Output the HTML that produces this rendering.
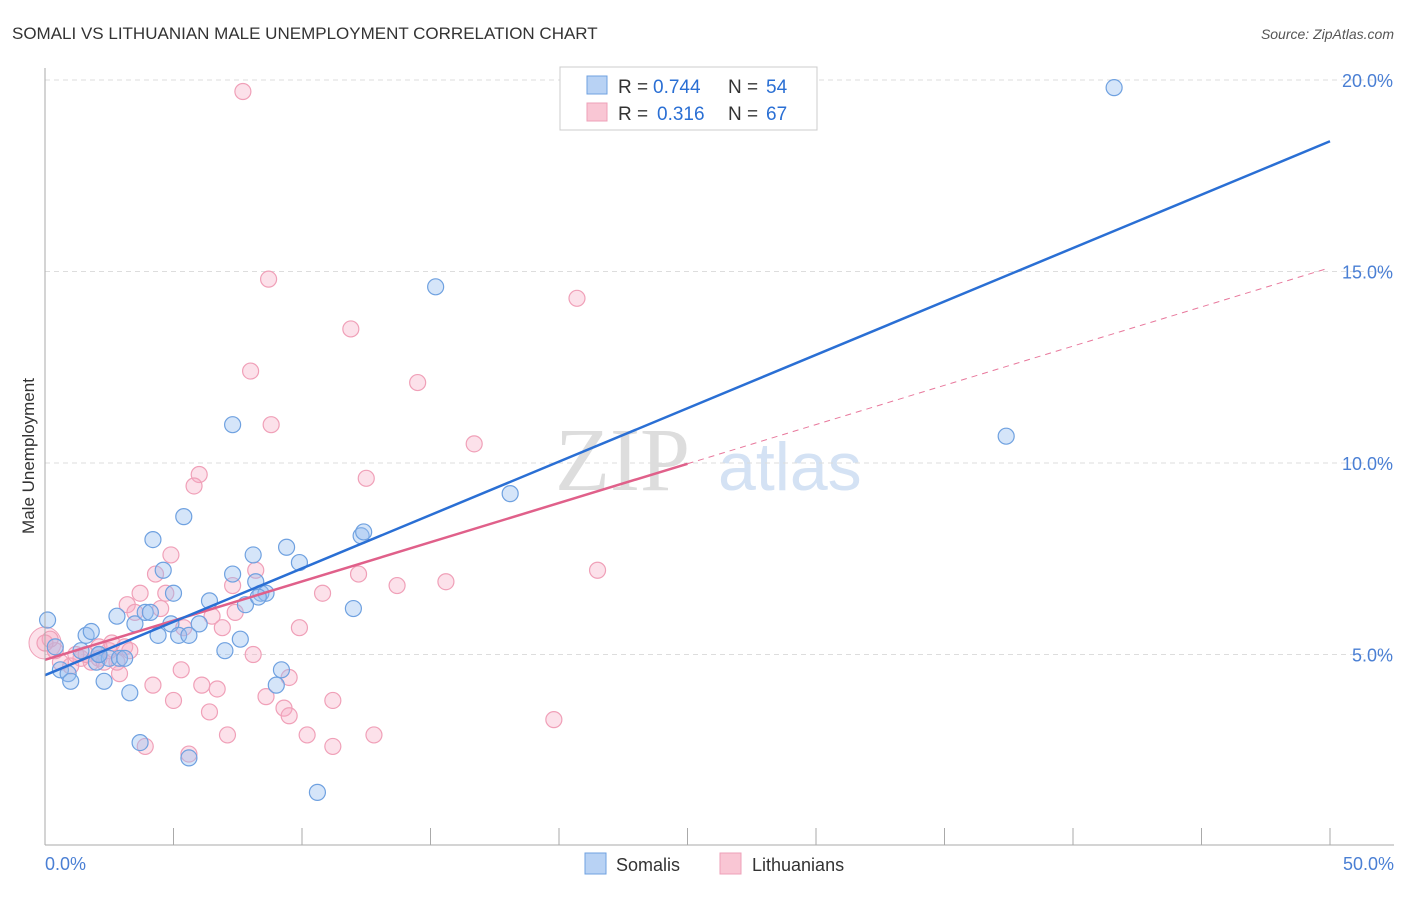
<!DOCTYPE html>
<html><head><meta charset="utf-8"><style>
body{margin:0;background:#fff;font-family:"Liberation Sans",sans-serif;}
</style></head><body>
<svg id="chart" width="1406" height="892" xmlns="http://www.w3.org/2000/svg">
<text x="12" y="39" font-size="17" fill="#333">SOMALI VS LITHUANIAN MALE UNEMPLOYMENT CORRELATION CHART</text>
<text x="1394" y="39" font-size="14" fill="#555" font-style="italic" text-anchor="end">Source: ZipAtlas.com</text>
<text x="34" y="456" font-size="17" fill="#333" text-anchor="middle" transform="rotate(-90 34 456)">Male Unemployment</text>
<text x="555" y="490" font-size="90" fill="#ddd" font-family="Liberation Serif,serif">ZIP</text>
<text x="718" y="490" font-size="68" fill="#d4e2f4">atlas</text>
<g id="grid"></g><g id="pts"></g><g id="lines"></g>
<line x1="45" y1="845" x2="1394" y2="845" stroke="#aaa"/>
<line x1="45" y1="68" x2="45" y2="845" stroke="#aaa"/>
<text x="45" y="870" font-size="18" fill="#4a7fd4">0.0%</text>
<text x="1394" y="870" font-size="18" fill="#4a7fd4" text-anchor="end">50.0%</text>
<g>
<rect x="560" y="67" width="257" height="63" fill="#fff" stroke="#ccc"/>
<rect x="587" y="76" width="20" height="18" fill="#b8d2f4" stroke="#6fa1e0"/>
<rect x="587" y="103" width="20" height="18" fill="#f9c6d4" stroke="#eea0b8"/>
<text x="618" y="93" font-size="19" fill="#333">R =</text>
<text x="653" y="93" font-size="19" fill="#2a6fd4">0.744</text>
<text x="728" y="93" font-size="19" fill="#333">N =</text>
<text x="766" y="93" font-size="19" fill="#2a6fd4">54</text>
<text x="618" y="120" font-size="19" fill="#333">R =</text>
<text x="657" y="120" font-size="19" fill="#2a6fd4">0.316</text>
<text x="728" y="120" font-size="19" fill="#333">N =</text>
<text x="766" y="120" font-size="19" fill="#2a6fd4">67</text>
</g>
<g>
<rect x="585" y="853" width="21" height="21" fill="#b8d2f4" stroke="#6fa1e0"/>
<text x="616" y="871" font-size="18" fill="#333">Somalis</text>
<rect x="720" y="853" width="21" height="21" fill="#f9c6d4" stroke="#eea0b8"/>
<text x="752" y="871" font-size="18" fill="#333">Lithuanians</text>
</g>
</svg>
<script>
const yTicks=[5,10,15,20];
const yTickLabels=["5.0%","10.0%","15.0%","20.0%"];
const somaliX=[0.1,0.4,0.6,0.9,1.0,1.4,1.6,1.8,2.0,2.1,2.3,2.5,2.8,2.9,3.1,3.3,3.5,3.7,3.9,4.1,4.2,4.4,4.6,4.9,5.0,5.2,5.4,5.6,6.0,6.4,7.0,7.3,7.3,7.6,7.8,8.1,8.2,8.4,8.6,9.0,9.2,9.4,9.9,10.6,12.0,12.3,12.4,15.2,18.1,37.4,41.6,5.6,8.3,2.1];
const somaliY=[5.9,5.2,4.6,4.5,4.3,5.1,5.5,5.6,4.8,5.0,4.3,4.9,6.0,4.9,4.9,4.0,5.8,2.7,6.1,6.1,8.0,5.5,7.2,5.8,6.6,5.5,8.6,5.5,5.8,6.4,5.1,7.1,11.0,5.4,6.3,7.6,6.9,6.6,6.6,4.2,4.6,7.8,7.4,1.4,6.2,8.1,8.2,14.6,9.2,10.7,19.8,2.3,6.5,5.0];
const lithX=[7.7,8.7,11.9,20.7,8.0,14.5,8.8,16.7,12.5,6.0,5.8,4.9,4.3,3.7,3.2,3.5,4.5,4.7,5.4,6.5,7.4,7.3,8.2,6.9,8.1,9.9,10.8,12.2,13.7,15.6,21.5,19.8,11.2,9.3,9.5,8.6,10.2,11.2,12.8,7.1,6.4,6.7,6.1,5.0,4.2,5.3,3.9,5.6,2.9,2.8,2.5,2.1,1.8,1.4,1.0,0.6,0.4,0.2,0.0,9.5,3.1,1.2,2.1,3.3,2.6,2.3,1.6];
const lithY=[19.7,14.8,13.5,14.3,12.4,12.1,11.0,10.5,9.6,9.7,9.4,7.6,7.1,6.6,6.3,6.1,6.2,6.6,5.7,6.0,6.1,6.8,7.2,5.7,5.0,5.7,6.6,7.1,6.8,6.9,7.2,3.3,3.8,3.6,3.4,3.9,2.9,2.6,2.9,2.9,3.5,4.1,4.2,3.8,4.2,4.6,2.6,2.4,4.5,4.8,5.1,5.2,4.8,4.9,4.7,4.8,5.1,5.4,5.3,4.4,5.2,5.0,4.9,5.1,5.3,4.8,5.0];
const blueLine=[4.46,18.4];
const pinkLine=[4.86,15.1];
const NS="http://www.w3.org/2000/svg";
const X=v=>45+v*25.7, Y=v=>846-v*38.3;
function mk(tag,at,parent){const e=document.createElementNS(NS,tag);for(const k in at)e.setAttribute(k,at[k]);parent.appendChild(e);return e;}
const grid=document.getElementById('grid'),pts=document.getElementById('pts'),lines=document.getElementById('lines');
yTicks.forEach((t,i)=>{
 const l=mk('line',{x1:45,x2:1394,y1:Y(t),y2:Y(t),stroke:'#ddd','stroke-dasharray':'5,4'},grid);
 
 
 const tx=mk('text',{x:1393,y:Y(t)+7,'font-size':18,fill:'#4a7fd4','text-anchor':'end'},grid);
 tx.textContent=yTickLabels[i];
 
 
});
for(let v=5;v<=50;v+=5){const t=mk('line',{x1:X(v),x2:X(v),y1:828,y2:845,stroke:'#aaa'},grid);
 
 }
const big=mk('circle',{cx:X(0),cy:Y(5.3),r:16,fill:'rgba(246,170,195,0.35)',stroke:'#f0a0b8'},pts);


lithX.forEach((x,i)=>{const c=mk('circle',{cx:X(x),cy:Y(lithY[i]),r:8,fill:'rgba(246,170,195,0.35)',stroke:'#f0a0b8','stroke-width':1.2},pts);
 
 });
somaliX.forEach((x,i)=>{const c=mk('circle',{cx:X(x),cy:Y(somaliY[i]),r:8,fill:'rgba(150,190,240,0.4)',stroke:'#6fa1e0','stroke-width':1.2},pts);
 
 });
const pAt=v=>pinkLine[0]+(pinkLine[1]-pinkLine[0])*v/50;
let l1=mk('line',{x1:X(25),y1:Y(pAt(25)),x2:X(49.8),y2:Y(pAt(49.8)),stroke:'#e8789c','stroke-width':1,'stroke-dasharray':'6,5'},lines);


let l2=mk('line',{x1:X(0),y1:Y(pinkLine[0]),x2:X(25),y2:Y(pAt(25)),stroke:'#e0608a','stroke-width':2.5},lines);


let l3=mk('line',{x1:X(0),y1:Y(blueLine[0]),x2:X(50),y2:Y(blueLine[1]),stroke:'#2a6fd4','stroke-width':2.5},lines);


</script>
</body></html>
